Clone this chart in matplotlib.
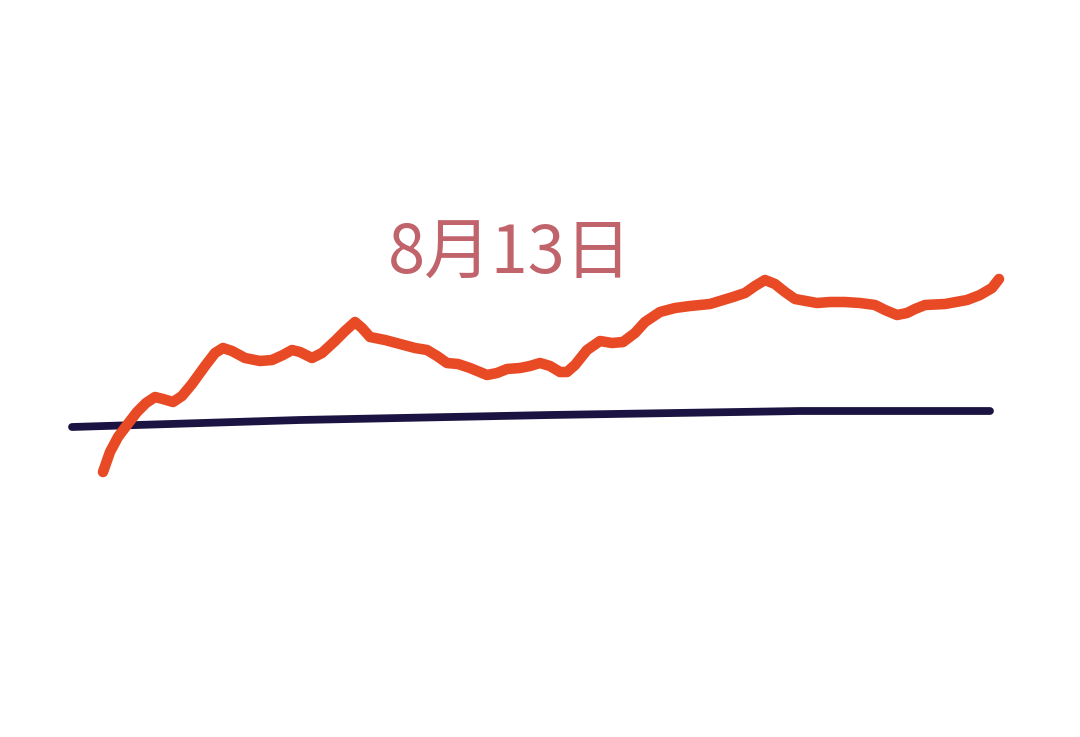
import matplotlib.pyplot as plt

plt.rcParams['font.family'] = ['Noto Sans CJK SC', 'DejaVu Sans']

# hand-drawn price curve (x position, level)
price_x = [103, 110, 118, 127, 137, 146, 155, 163, 173, 182, 192, 205, 215, 223, 232,
           245, 260, 272, 283, 292, 300, 312, 322, 335, 345, 355, 362, 370, 385, 400,
           415, 427, 437, 447, 458, 470, 487, 497, 507, 520, 530, 540, 550, 560, 567,
           575, 587, 600, 612, 623, 635, 645, 660, 675, 690, 710, 733, 745, 755, 765,
           775, 785, 795, 817, 830, 845, 860, 875, 885, 897, 907, 915, 925, 945, 967,
           980, 992, 999]
price_y = [472, 452, 437, 425, 412, 403, 397, 399, 402, 396, 384, 366, 353, 348, 351,
           358, 361, 360, 355, 350, 352, 358, 353, 341, 331, 322, 328, 337, 340, 344,
           348, 350, 356, 363, 364, 368, 375, 373, 369, 368, 366, 363, 366, 372, 372,
           365, 350, 341, 343, 342, 333, 322, 312, 308, 306, 304, 297, 293, 286, 280,
           284, 292, 299, 303, 302, 302, 303, 305, 310, 315, 313, 309, 305, 304, 300,
           295, 288, 279]

# baseline
base_x = [72, 300, 550, 800, 990]
base_y = [427, 420, 415, 411, 411]

title = "8月13日"

fig = plt.figure(figsize=(10.8, 7.37), dpi=100)
ax = fig.add_axes([0, 0, 1, 1])
ax.set_xlim(0, 1080)
ax.set_ylim(737, 0)
ax.axis('off')

ax.plot(base_x, base_y, color='#1b1442', linewidth=5.6, solid_capstyle='round',
        solid_joinstyle='round', zorder=2)
ax.plot(price_x, price_y, color='#e94a26', linewidth=7.6, solid_capstyle='round',
        solid_joinstyle='round', zorder=3)

ax.text(510, 255, title, color='#c0636b', fontsize=48, fontweight='light',
        ha='center', va='center')

fig.savefig('out.png', dpi=100, facecolor='white')
